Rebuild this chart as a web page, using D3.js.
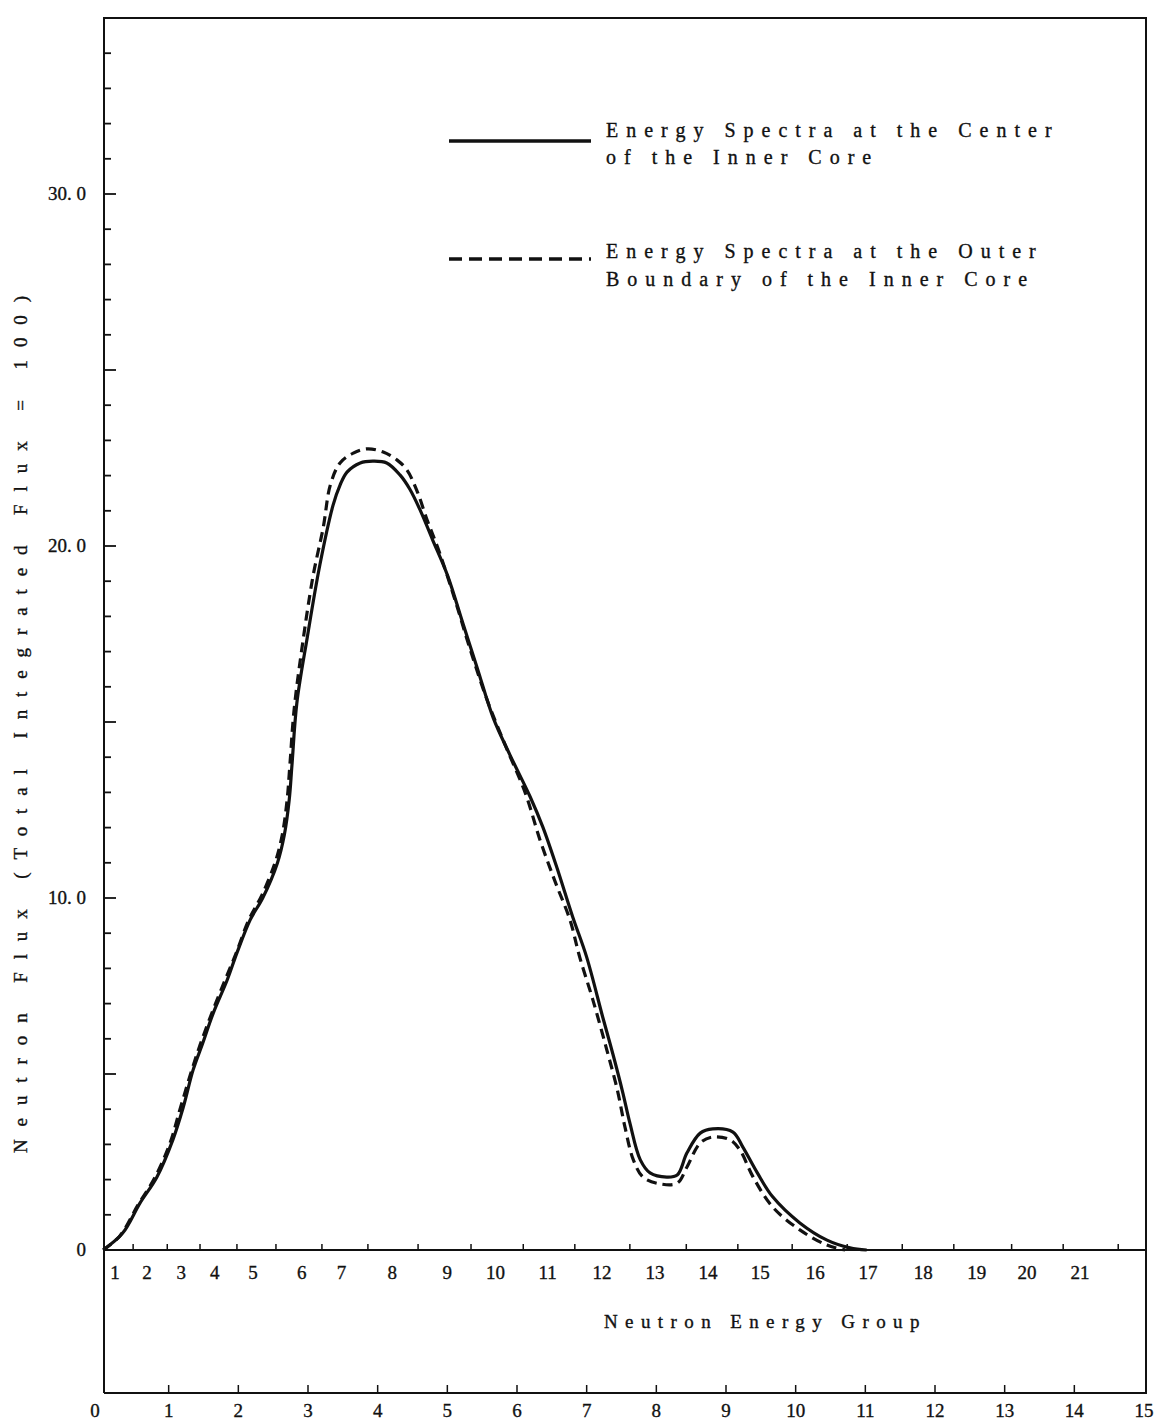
<!DOCTYPE html>
<meta charset="utf-8">
<head>
    <style>
        body { margin: 0; background: #fff; }
        text { font-family: "Liberation Serif", "Times New Roman", serif; fill: #111; stroke: #111; stroke-width: 0.35px; }
    </style>
</head>
<body>
    <div id="chart"></div>

    <script src="https://d3js.org/d3.v7.min.js"></script>
    <script>
        // data (x in lethargy units of the bottom axis)
        let centerX = [0.06, 0.34, 0.59, 0.83, 1.06, 1.21, 1.35, 1.49, 1.64, 1.84, 1.98, 2.17, 2.35, 2.56, 2.66, 2.73, 2.77, 2.84, 2.99, 3.17, 3.36, 3.46, 3.56, 3.75, 3.93, 4.13, 4.32, 4.46, 4.61, 4.79, 5.00, 5.23, 5.43, 5.66, 5.90, 6.19, 6.37, 6.57, 6.80, 7.00, 7.23, 7.38, 7.52, 7.62, 7.77, 7.91, 8.15, 8.30, 8.44, 8.63, 8.81, 9.10, 9.24, 9.45, 9.67, 10.06, 10.45, 10.78, 11.02];
        let centerY = [0, 0.48, 1.34, 2.07, 3.13, 4.06, 5.11, 5.88, 6.73, 7.67, 8.44, 9.38, 10.0, 10.99, 11.79, 12.78, 13.78, 15.54, 17.41, 19.46, 21.16, 21.73, 22.10, 22.36, 22.41, 22.36, 22.02, 21.62, 21.02, 20.17, 19.18, 17.76, 16.53, 15.11, 14.06, 12.87, 12.02, 10.88, 9.46, 8.32, 6.62, 5.54, 4.46, 3.61, 2.56, 2.19, 2.07, 2.13, 2.76, 3.32, 3.44, 3.35, 2.93, 2.19, 1.51, 0.77, 0.28, 0.06, 0];

        let boundaryX = [0.06, 0.30, 0.56, 0.80, 1.02, 1.16, 1.31, 1.45, 1.62, 1.81, 1.97, 2.15, 2.34, 2.53, 2.63, 2.70, 2.74, 2.80, 2.91, 3.07, 3.22, 3.32, 3.46, 3.65, 3.85, 4.08, 4.28, 4.42, 4.56, 4.71, 4.89, 5.11, 5.33, 5.57, 5.83, 6.12, 6.33, 6.55, 6.76, 6.90, 7.09, 7.29, 7.44, 7.55, 7.67, 7.81, 8.05, 8.30, 8.44, 8.63, 8.81, 9.06, 9.20, 9.39, 9.67, 10.06, 10.45, 10.71];
        let boundaryY = [0, 0.40, 1.28, 2.05, 3.04, 3.98, 4.97, 5.82, 6.73, 7.67, 8.44, 9.38, 10.09, 11.02, 11.79, 12.78, 13.78, 15.34, 17.05, 19.12, 20.54, 21.73, 22.36, 22.64, 22.76, 22.67, 22.44, 22.16, 21.59, 20.74, 19.80, 18.47, 17.05, 15.63, 14.35, 12.98, 11.65, 10.45, 9.38, 8.32, 7.10, 5.68, 4.55, 3.49, 2.56, 2.07, 1.88, 1.90, 2.36, 3.04, 3.21, 3.13, 2.84, 2.07, 1.22, 0.57, 0.14, 0];

        // neutron energy group boundaries and label positions (bottom-axis units)
        let groupEdges = [0.49, 0.98, 1.45, 1.98, 2.54, 3.20, 3.86, 4.58, 5.34, 6.09, 6.83, 7.62, 8.43, 9.17, 9.95, 10.74, 11.53, 12.27, 13.10, 13.84, 14.63];
        let groupLabels = ['1', '2', '3', '4', '5', '6', '7', '8', '9', '10', '11', '12', '13', '14', '15', '16', '17', '18', '19', '20', '21'];
        let groupLabelX = [0.23, 0.69, 1.18, 1.66, 2.21, 2.91, 3.48, 4.21, 5.00, 5.69, 6.44, 7.22, 7.98, 8.74, 9.49, 10.28, 11.04, 11.83, 12.60, 13.32, 14.08];

        let bottomTicks = d3.range(0, 16);
        let yMajor = [0, 10, 20, 30];
        let yMajorLabels = ['0', '10. 0', '20. 0', '30. 0'];
        let yMinor = d3.range(1, 35);

        let svgWidth = 1161, svgHeight = 1428;
        let frameLeft = 104, frameRight = 1146, frameTop = 18, frameBottom = 1393;

        let x = d3.scaleLinear().domain([0, 15]).range([99, 1144]);
        let y = d3.scaleLinear().domain([0, 35]).range([1250, 18]);

        let svg = d3.select('#chart').append('svg')
            .attr('width', svgWidth)
            .attr('height', svgHeight);

        // frame
        let frame = svg.append('g').attr('stroke', '#111').attr('stroke-width', 2).attr('fill', 'none');
        frame.append('path').attr('d', `M${frameLeft},${frameBottom}V${frameTop}H${frameRight}V${frameBottom}H${frameLeft}`);
        frame.append('line').attr('x1', frameLeft).attr('x2', frameRight).attr('y1', y(0)).attr('y2', y(0));

        // y axis ticks (inward)
        svg.append('g').selectAll('line')
            .data(yMinor)
            .join('line')
            .attr('x1', frameLeft)
            .attr('x2', d => frameLeft + (d % 5 === 0 ? 12 : 7))
            .attr('y1', d => y(d))
            .attr('y2', d => y(d))
            .attr('stroke', '#111')
            .attr('stroke-width', 1.8);

        svg.append('g').selectAll('text')
            .data(yMajor)
            .join('text')
            .attr('x', 86)
            .attr('y', d => y(d) + 6)
            .attr('text-anchor', 'end')
            .style('font-size', '19px')
            .text((d, i) => yMajorLabels[i]);

        // group axis ticks (upward)
        svg.append('g').selectAll('line')
            .data(groupEdges)
            .join('line')
            .attr('x1', d => x(d)).attr('x2', d => x(d))
            .attr('y1', y(0)).attr('y2', y(0) - 6)
            .attr('stroke', '#111').attr('stroke-width', 1.5);

        svg.append('g').selectAll('text')
            .data(groupLabelX)
            .join('text')
            .attr('x', d => x(d))
            .attr('y', 1279)
            .attr('text-anchor', 'middle')
            .style('font-size', '19px')
            .text((d, i) => groupLabels[i]);

        // bottom axis
        svg.append('g').selectAll('line')
            .data(bottomTicks.slice(1, 15))
            .join('line')
            .attr('x1', d => x(d)).attr('x2', d => x(d))
            .attr('y1', frameBottom).attr('y2', frameBottom - 8)
            .attr('stroke', '#111').attr('stroke-width', 1.5);

        svg.append('g').selectAll('text')
            .data(bottomTicks)
            .join('text')
            .attr('x', d => d === 0 ? 95 : x(d))
            .attr('y', 1417)
            .attr('text-anchor', 'middle')
            .style('font-size', '19px')
            .text(d => d);

        // axis titles
        svg.append('text')
            .attr('x', 604).attr('y', 1328)
            .style('font-size', '19px')
            .style('letter-spacing', '7.4px')
            .text('Neutron Energy Group');

        svg.append('text')
            .attr('transform', 'translate(27, 1153) rotate(-90)')
            .style('font-size', '19px')
            .style('letter-spacing', '12.9px')
            .text('Neutron Flux (Total Integrated Flux = 100)');

        // curves
        let line = d3.line()
            .x(d => x(d[0]))
            .y(d => y(d[1]))
            .curve(d3.curveCatmullRom.alpha(0.5));

        svg.append('path')
            .datum(d3.zip(boundaryX, boundaryY))
            .attr('d', line)
            .attr('fill', 'none')
            .attr('stroke', '#111')
            .attr('stroke-width', 3.2)
            .attr('stroke-dasharray', '10,6');

        svg.append('path')
            .datum(d3.zip(centerX, centerY))
            .attr('d', line)
            .attr('fill', 'none')
            .attr('stroke', '#111')
            .attr('stroke-width', 3.2);

        // legend
        let legend = svg.append('g');
        legend.append('line')
            .attr('x1', 449).attr('x2', 591).attr('y1', 141).attr('y2', 141)
            .attr('stroke', '#111').attr('stroke-width', 3.5);
        legend.append('line')
            .attr('x1', 449).attr('x2', 591).attr('y1', 259).attr('y2', 259)
            .attr('stroke', '#111').attr('stroke-width', 3.5)
            .attr('stroke-dasharray', '13,7');

        let legendLines = [
            ['Energy Spectra at the Center', 137],
            ['of the Inner Core', 164],
            ['Energy Spectra at the Outer', 258],
            ['Boundary of the Inner Core', 286]
        ];
        legend.selectAll('text')
            .data(legendLines)
            .join('text')
            .attr('x', 606)
            .attr('y', d => d[1])
            .style('font-size', '20px')
            .style('letter-spacing', '8px')
            .text(d => d[0]);
    </script>
</body>
